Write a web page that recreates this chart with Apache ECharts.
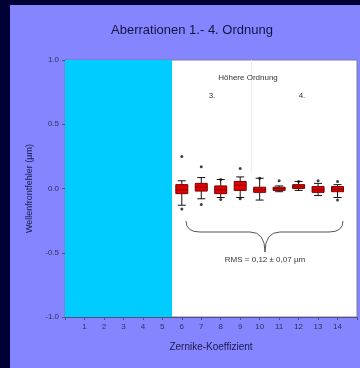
<!DOCTYPE html>
<html>
<head>
<meta charset="utf-8">
<script src="https://cdn.jsdelivr.net/npm/echarts@6/dist/echarts.min.js"></script>
<style>
  html, body { margin: 0; padding: 0; background: #000035; }
  #chart { width: 360px; height: 368px; }
</style>
</head>
<body>
<div id="chart"></div>
<script>
const coefficients = [6, 7, 8, 9, 10, 11, 12, 13, 14];
const whiskerLow = [-0.13, -0.08, -0.07, -0.07, -0.09, -0.025, -0.015, -0.055, -0.07];
const quartile1 = [-0.04, -0.02, -0.04, -0.015, -0.03, -0.015, 0.0, -0.03, -0.025];
const medians = [-0.01, 0.01, -0.01, 0.025, -0.01, 0.0, 0.015, -0.01, -0.005];
const quartile3 = [0.03, 0.04, 0.02, 0.055, 0.01, 0.01, 0.03, 0.015, 0.015];
const whiskerHigh = [0.06, 0.085, 0.07, 0.09, 0.08, 0.02, 0.055, 0.04, 0.03];
const outliers = [
  [6, 0.25], [6, -0.16], [7, 0.17], [7, -0.125], [8, 0.07], [8, -0.085],
  [9, 0.155], [9, -0.08], [10, 0.08], [11, 0.06], [12, 0.055], [13, 0.06],
  [14, 0.055], [14, -0.09]
];
const xTicks = [1, 2, 3, 4, 5, 6, 7, 8, 9, 10, 11, 12, 13, 14];

const boxData = coefficients.map((c, i) => [c, whiskerLow[i], quartile1[i], medians[i], quartile3[i], whiskerHigh[i]]);

const chart = echarts.init(document.getElementById("chart"), null, { renderer: "canvas" });

const textColor = "#1a1a4a";
const axisColor = "#50507a";
const font8 = "8px Arial, 'Liberation Sans', sans-serif";
const brace = { stroke: "#555", lineWidth: 1, fill: null };

chart.setOption({
  animation: false,
  backgroundColor: "#000035",
  graphic: [
    { type: "rect", z: -10, shape: { x: 10, y: 5, width: 350, height: 363 }, style: { fill: "#8585ff" } },
    { type: "text", z: 10, x: 192, y: 30, style: { text: "Aberrationen 1.- 4. Ordnung", fill: "#141440", align: "center", verticalAlign: "middle", font: "13px Arial, 'Liberation Sans', sans-serif" } },
    { type: "text", z: 10, x: 248, y: 78, style: { text: "Höhere Ordnung", fill: "#333", align: "center", verticalAlign: "middle", font: font8 } },
    { type: "text", z: 10, x: 212, y: 96, style: { text: "3.", fill: "#333", align: "center", verticalAlign: "middle", font: font8 } },
    { type: "text", z: 10, x: 302, y: 96, style: { text: "4.", fill: "#333", align: "center", verticalAlign: "middle", font: font8 } },
    { type: "text", z: 10, x: 265, y: 260, style: { text: "RMS = 0,12 ± 0,07 µm", fill: "#333", align: "center", verticalAlign: "middle", font: font8 } },
    { type: "bezierCurve", z: 10, shape: { x1: 186, y1: 221, cpx1: 186, cpy1: 232, x2: 200, y2: 232 }, style: brace },
    { type: "line", z: 10, shape: { x1: 200, y1: 232, x2: 250, y2: 232 }, style: brace },
    { type: "bezierCurve", z: 10, shape: { x1: 250, y1: 232, cpx1: 265, cpy1: 232, x2: 265, y2: 252 }, style: brace },
    { type: "bezierCurve", z: 10, shape: { x1: 265, y1: 252, cpx1: 265, cpy1: 232, x2: 280, y2: 232 }, style: brace },
    { type: "line", z: 10, shape: { x1: 280, y1: 232, x2: 329, y2: 232 }, style: brace },
    { type: "bezierCurve", z: 10, shape: { x1: 329, y1: 232, cpx1: 343, cpy1: 232, x2: 343, y2: 221 }, style: brace }
  ],
  grid: {
    left: 65, right: 3, top: 60, bottom: 51,
    show: true, backgroundColor: "#ffffff", borderColor: "#7a7aa8", borderWidth: 1
  },
  xAxis: {
    type: "value", min: 0, max: 15, interval: 1,
    name: "Zernike-Koeffizient", nameLocation: "middle", nameGap: 25,
    nameTextStyle: { color: textColor, fontSize: 10, fontFamily: "Arial" },
    axisLine: { onZero: false, lineStyle: { color: axisColor } },
    axisTick: { length: 3, lineStyle: { color: axisColor } },
    splitLine: { show: false },
    axisLabel: {
      color: "#30305a", fontSize: 8, fontFamily: "Arial", margin: 6,
      formatter: (v) => (xTicks.includes(v) ? String(v) : "")
    }
  },
  yAxis: {
    type: "value", min: -1, max: 1, interval: 0.5,
    name: "Wellenfrontfehler (µm)", nameLocation: "middle", nameGap: 27,
    nameTextStyle: { color: textColor, fontSize: 9, fontFamily: "Arial" },
    axisLine: { show: true, onZero: false, lineStyle: { color: axisColor } },
    axisTick: { show: true, length: 3, lineStyle: { color: axisColor } },
    splitLine: { show: false },
    axisLabel: { color: "#30305a", fontSize: 8, fontFamily: "Arial", margin: 6, formatter: (v) => v.toFixed(1) }
  },
  series: [
    {
      type: "custom",
      data: boxData,
      z: 5,
      encode: { x: 0, y: [1, 2, 3, 4, 5] },
      markArea: {
        silent: true,
        itemStyle: { color: "#00ccff" },
        data: [[{ xAxis: 0, yAxis: -1 }, { xAxis: 5.5, yAxis: 1 }]]
      },
      markLine: {
        silent: true, symbol: "none", label: { show: false },
        lineStyle: { color: "#ececf2", width: 1, type: "solid" },
        data: [[{ coord: [9.55, 1] }, { coord: [9.55, 0.12] }]]
      },
      renderItem: (params, api) => {
        const x = api.value(0);
        const low = api.coord([x, api.value(1)]);
        const q1 = api.coord([x, api.value(2)]);
        const med = api.coord([x, api.value(3)]);
        const q3 = api.coord([x, api.value(4)]);
        const high = api.coord([x, api.value(5)]);
        const bw = 6, cw = 4;
        const line = { stroke: "#111", lineWidth: 1 };
        return {
          type: "group",
          children: [
            { type: "line", shape: { x1: high[0], y1: high[1], x2: q3[0], y2: q3[1] }, style: line },
            { type: "line", shape: { x1: q1[0], y1: q1[1], x2: low[0], y2: low[1] }, style: line },
            { type: "line", shape: { x1: high[0] - cw, y1: high[1], x2: high[0] + cw, y2: high[1] }, style: line },
            { type: "line", shape: { x1: low[0] - cw, y1: low[1], x2: low[0] + cw, y2: low[1] }, style: line },
            { type: "rect", shape: { x: q3[0] - bw, y: q3[1], width: bw * 2, height: q1[1] - q3[1] }, style: { fill: "#e00000", stroke: "#7a0000", lineWidth: 1 } },
            { type: "line", shape: { x1: med[0] - bw, y1: med[1], x2: med[0] + bw, y2: med[1] }, style: { stroke: "#800000", lineWidth: 1 } }
          ]
        };
      }
    },
    {
      type: "scatter",
      data: outliers,
      symbol: "circle",
      symbolSize: 3,
      z: 6,
      itemStyle: { color: "#111" }
    }
  ]
});
</script>
</body>
</html>
